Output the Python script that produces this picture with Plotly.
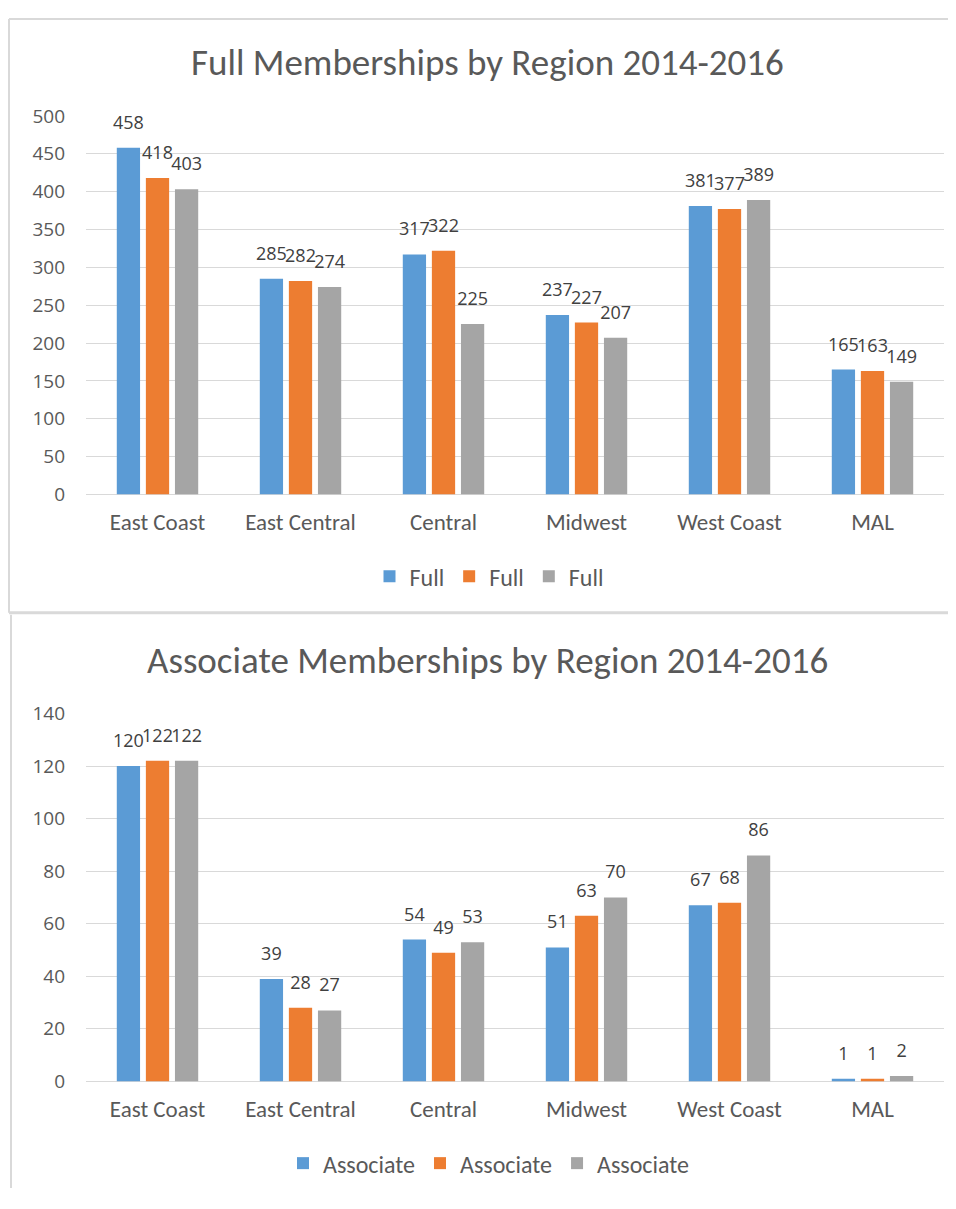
import plotly.graph_objects as go

regions = ["East Coast", "East Central", "Central", "Midwest", "West Coast", "MAL"]
full_2014 = [458, 285, 317, 237, 381, 165]
full_2015 = [418, 282, 322, 227, 377, 163]
full_2016 = [403, 274, 225, 207, 389, 149]
assoc_2014 = [120, 39, 54, 51, 67, 1]
assoc_2015 = [122, 28, 49, 63, 68, 1]
assoc_2016 = [122, 27, 53, 70, 86, 2]
colors = ["#5B9BD5", "#ED7D31", "#A5A5A5"]
full_names = ["Full", "Full", "Full"]
assoc_names = ["Associate", "Associate", "Associate"]
title_top = "Full Memberships by Region 2014-2016"
title_bottom = "Associate Memberships by Region 2014-2016"

# page body has an 8px margin; lay the figure out in reference pixel coordinates shifted by it
OFF = 8
W, H = 956 - 2 * OFF, 1209 - 2 * OFF
CAL = "Carlito, Lato, sans-serif"
NUM = "'Open Sans', sans-serif"
TXT = "#595959"

def py(p):
    return 1 - (p - OFF) / H

def px(p):
    return (p - OFF) / W

# value label with a small blank line below it, to lift it off the bar top
LABEL_T = "<span style='font-size:18px'>%{y}</span><br> "

fig = go.Figure()
for vals, c, n in zip([full_2014, full_2015, full_2016], colors, full_names):
    fig.add_trace(go.Bar(x=regions, y=vals, name=n, marker=dict(color=c, line=dict(width=0)),
                         texttemplate=LABEL_T, textposition="outside", cliponaxis=False,
                         constraintext="none",
                         textfont=dict(size=10, color="#404040", family=NUM),
                         xaxis="x", yaxis="y", legend="legend"))
for vals, c, n in zip([assoc_2014, assoc_2015, assoc_2016], colors, assoc_names):
    fig.add_trace(go.Bar(x=regions, y=vals, name=n, marker=dict(color=c, line=dict(width=0)),
                         texttemplate=LABEL_T, textposition="outside", cliponaxis=False,
                         constraintext="none",
                         textfont=dict(size=10, color="#404040", family=NUM),
                         xaxis="x2", yaxis="y2", legend="legend2"))

xax_common = dict(showline=False, ticks="", ticklabelstandoff=12, fixedrange=True,
                  tickfont=dict(size=23, color=TXT, family=CAL))
yax_common = dict(showgrid=True, gridcolor="#D9D9D9", gridwidth=1, zeroline=True,
                  zerolinecolor="#D9D9D9", zerolinewidth=1, showline=False, ticks="",
                  ticklabelstandoff=20,
                  tickfont=dict(size=19, color=TXT, family=NUM), fixedrange=True)

leg_common = dict(orientation="h", x=px(489), xanchor="center", yanchor="middle",
                  font=dict(size=24, color=TXT, family=CAL), itemwidth=30,
                  bgcolor="rgba(0,0,0,0)")

fig.update_layout(
    width=W, height=H,
    margin=dict(l=0, r=0, t=0, b=0),
    paper_bgcolor="white", plot_bgcolor="white",
    font=dict(family=CAL, color=TXT),
    barmode="group", bargap=0.39, bargroupgap=0.2,
    xaxis=dict(domain=[px(86), px(944)], anchor="y", **xax_common),
    yaxis=dict(domain=[py(492), py(105)], range=[0, 500], dtick=50, anchor="x", **yax_common),
    xaxis2=dict(domain=[px(86), px(944)], anchor="y2", **xax_common),
    yaxis2=dict(domain=[py(1092), py(716)], range=[0, 140], dtick=20, anchor="x2", **yax_common),
    legend=dict(y=py(576), **leg_common),
    legend2=dict(y=py(1176), **leg_common),
    showlegend=True,
    annotations=[
        dict(text=title_top, x=px(487), y=py(50), xref="paper", yref="paper", showarrow=False,
             xanchor="center", yanchor="middle", font=dict(size=37, color=TXT, family=CAL)),
        dict(text=title_bottom, x=px(487), y=py(662), xref="paper", yref="paper", showarrow=False,
             xanchor="center", yanchor="middle", font=dict(size=37, color=TXT, family=CAL)),
    ],
    shapes=[
        dict(type="line", xref="paper", yref="paper", x0=px(9), x1=1, y0=py(6), y1=py(6),
             line=dict(color="#D9D9D9", width=2)),
        dict(type="line", xref="paper", yref="paper", x0=px(9), x1=px(9), y0=py(6), y1=py(613),
             line=dict(color="#D9D9D9", width=2)),
        dict(type="line", xref="paper", yref="paper", x0=px(9), x1=1, y0=py(613), y1=py(613),
             line=dict(color="#D9D9D9", width=3)),
        dict(type="line", xref="paper", yref="paper", x0=px(11), x1=px(11), y0=py(615), y1=0,
             line=dict(color="#D9D9D9", width=2)),
    ],
)

fig.write_html("out.html")
